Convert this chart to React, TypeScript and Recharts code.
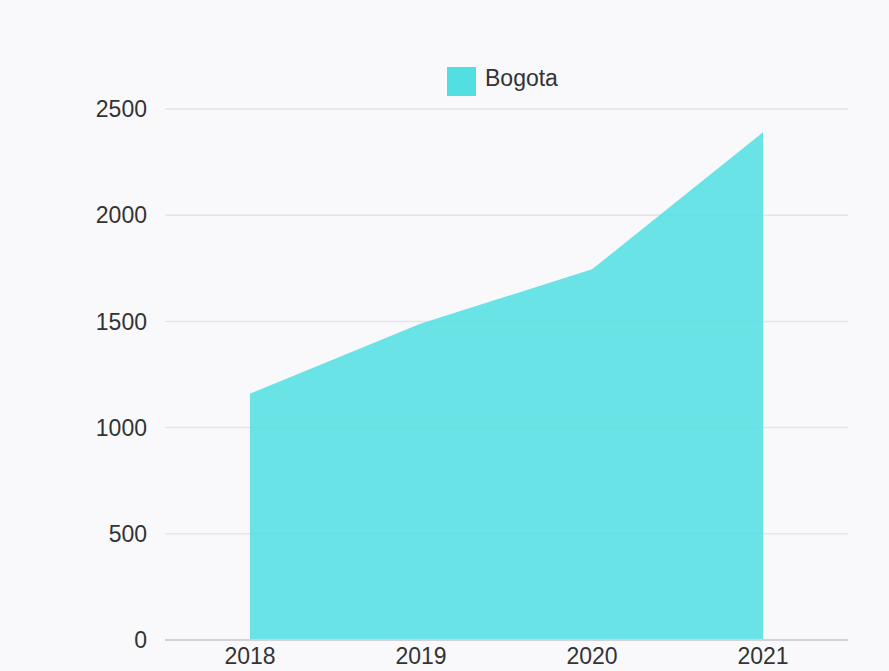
import { AreaChart, Area, XAxis, YAxis, CartesianGrid, Legend } from "recharts";

const years = ["2018", "2019", "2020", "2021"];
const bogota = [1160, 1490, 1745, 2390];
const yTicks = [0, 500, 1000, 1500, 2000, 2500];

const data = years.map((y, i) => ({ year: y, Bogota: bogota[i] }));

const font = "'Liberation Sans', Arial, sans-serif";

export default function App() {
  return (
    <div
      style={{
        position: "absolute",
        left: 0,
        top: 0,
        width: 889,
        height: 671,
        background: "#f9f9fc",
        fontFamily: font,
      }}
    >
      <AreaChart
        width={889}
        height={671}
        data={data}
        margin={{ top: 109, right: 41, left: 0, bottom: 0 }}
      >
        <CartesianGrid vertical={false} stroke="#e4e4ea" strokeWidth={1.5} />
        <XAxis
          dataKey="year"
          height={31}
          padding={{ left: 85, right: 85 }}
          tickLine={false}
          axisLine={{ stroke: "#d2d2d8", strokeWidth: 2 }}
          tickMargin={2}
          tick={{ fontSize: 23, fill: "#333", fontFamily: font }}
        />
        <YAxis
          width={165}
          domain={[0, 2500]}
          ticks={yTicks}
          axisLine={false}
          tickLine={false}
          tickMargin={12}
          tick={{ fontSize: 23, fill: "#333", fontFamily: font }}
        />
        <Legend
          verticalAlign="middle"
          layout="horizontal"
          align="center"
          iconType="square"
          iconSize={29}
          wrapperStyle={{ top: 65, left: 447, width: "auto" }}
          formatter={(value) => (
            <span style={{ color: "#333", fontSize: 23, marginLeft: 5, fontFamily: font }}>
              {value}
            </span>
          )}
        />
        <Area
          type="linear"
          dataKey="Bogota"
          stroke="none"
          fill="#51dfe2"
          fillOpacity={0.85}
          isAnimationActive={false}
        />
      </AreaChart>
    </div>
  );
}
